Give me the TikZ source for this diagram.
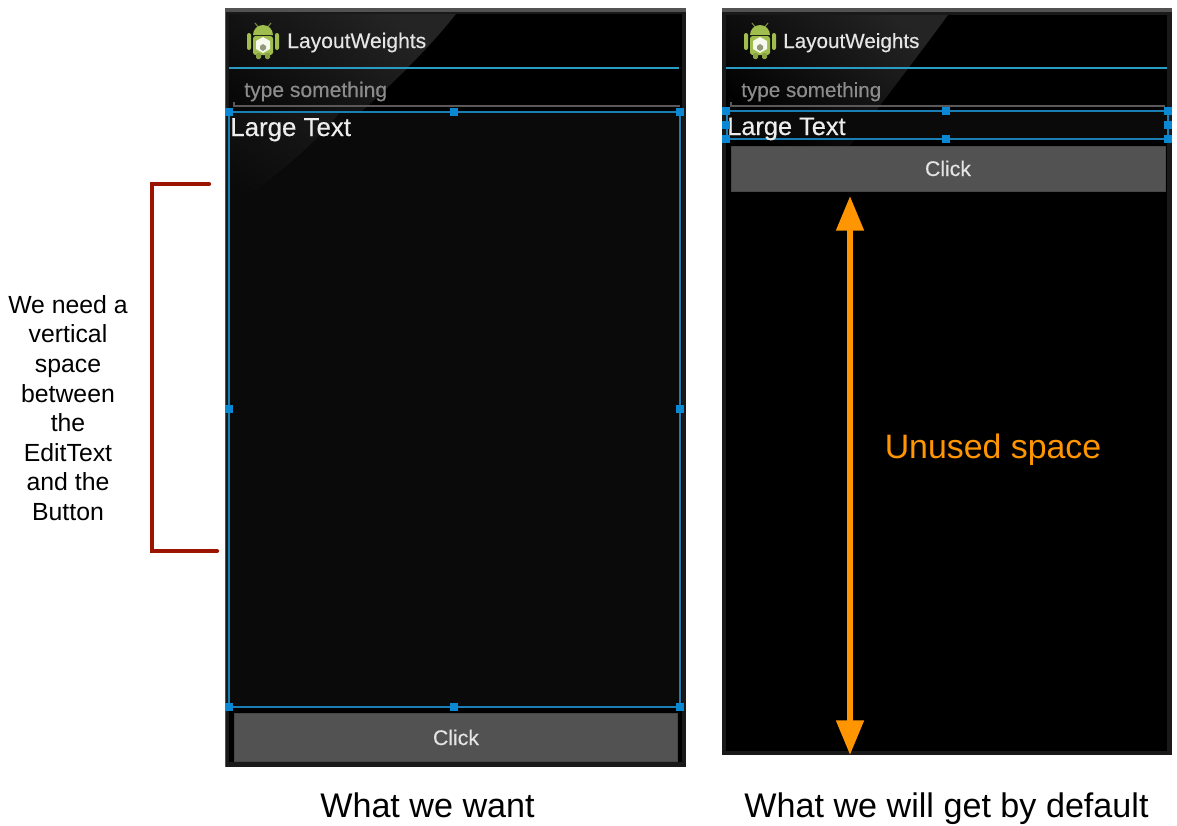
\documentclass[tikz,border=0pt]{standalone}
\usepackage{fontspec}
\setmainfont{Liberation Sans}
\newfontfamily\appfont[FakeBold=0.35]{Liberation Sans}
\usetikzlibrary{arrows.meta}
\definecolor{handleblue}{HTML}{0A88D4}
\definecolor{holoblue}{HTML}{2A9CC4}
\definecolor{selectblue}{HTML}{1A7FB4}
\definecolor{unusedorange}{HTML}{FF9500}
\definecolor{bracketred}{HTML}{9B1400}
\definecolor{droidgreen}{HTML}{A0BE4E}
\tikzset{
  handle/.style={rectangle,inner sep=0pt,minimum size=6.4pt,fill=handleblue},
  apptitle/.style={anchor=base west,inner sep=0pt,font=\appfont\fontsize{15.8}{18}\selectfont,text=white!90!black},
  hinttext/.style={anchor=base west,inner sep=0pt,font=\appfont\fontsize{15.8}{18}\selectfont,text=black!45!white},
  largetext/.style={anchor=base west,inner sep=0pt,font=\appfont\fontsize{19.4}{20}\selectfont,text=white!93!black},
  clicktext/.style={anchor=base,inner sep=0pt,font=\appfont\fontsize{15.9}{18}\selectfont,text=white!90!black},
  caption/.style={anchor=base,inner sep=0pt,font=\fontsize{25.6}{30}\selectfont},
  droid/.pic={
    \draw[droidgreen!75!black,line width=0.8pt] (-8,-18) -- (-4,-13) (8,-18) -- (4,-13);
    \fill[droidgreen] (-10,-6) arc (180:360:10) -- cycle;
    \fill[droidgreen,rounded corners=2pt] (-10,-5) rectangle (10,14);
    \fill[droidgreen,rounded corners=1.5pt] (-16,-8) rectangle (-12,9);
    \fill[droidgreen,rounded corners=1.5pt] (12,-8) rectangle (16,9);
    \fill[droidgreen!85!black,rounded corners=1pt] (-7,12) rectangle (-2,18);
    \fill[droidgreen!85!black,rounded corners=1pt] (2,12) rectangle (7,18);
    \fill[white!90!droidgreen] (0,-4) -- (7,0) -- (7,8) -- (0,12) -- (-7,8) -- (-7,0) -- cycle;
    \fill[droidgreen!45!black!60!white] (0,3) -- (3,5) -- (3,8) -- (0,10) -- (-3,8) -- (-3,5) -- cycle;
  }
}
\begin{document}
\begin{tikzpicture}[x=0.75pt,y=-0.75pt]
\useasboundingbox (0,0) rectangle (1177,825);
% left screen
\fill[black!68!white] (225,8) rectangle (686,767);
\fill[black!90!white] (226,12) rectangle (686,767);
\fill[black] (229,14) rectangle (682,762);
\shade[left color=black!86!white,right color=black,shading angle=-40] (229,14) -- (456,14) .. controls (420,60) and (330,150) .. (229,210) -- cycle;
\fill[black!96!white] (229,112) rectangle (680,707);
\shade[left color=black!91!white,right color=black!96!white,shading angle=-40] (229,112) -- (340,112) .. controls (310,150) and (270,180) .. (229,210) -- cycle;
\draw[holoblue,line width=1.3pt] (229,68) -- (679,68);
\draw[black!65!white,line width=0.9pt] (234,102) -- (234,106) -- (680,106);
\draw[selectblue,line width=0.8pt] (229,112) rectangle (680,707);
\fill[black!68!white,draw=black!72!white,line width=0.5pt] (234,713) rectangle (677,761);
% right screen
\fill[black!68!white] (722,8) rectangle (1172,755);
\fill[black!90!white] (722,12) rectangle (1172,755);
\fill[black] (726,15) rectangle (1167,751);
\shade[left color=black!86!white,right color=black,shading angle=-40] (726,15) -- (948,15) .. controls (915,60) and (880,105) .. (850,146) -- (726,146) -- cycle;
\fill[black!96!white] (727,111) rectangle (1168,139);
\draw[holoblue,line width=1.3pt] (726,68) -- (1167,68);
\draw[black!65!white,line width=0.9pt] (731,102) -- (731,106) -- (1165,106);
\draw[selectblue,line width=0.8pt] (727,111) rectangle (1168,139);
\fill[black!68!white,draw=black!72!white,line width=0.5pt] (731,146) rectangle (1165,191);
% screen contents
\pic at (263,41) {droid};
\pic at (760,41) {droid};
\node (titleleft) at (287,48) [apptitle] {LayoutWeights};
\node (titleright) at (783,48) [apptitle,scale=0.98] {LayoutWeights};
\node (hintleft) at (244,97) [hinttext] {type something};
\node (hintright) at (741,97) [hinttext,scale=0.98] {type something};
\node (largeleft) at (230,136) [largetext] {Large Text};
\node (largeright) at (727,135) [largetext,scale=0.98] {Large Text};
\node (clickleft) at (456,745) [clicktext] {Click};
\node (clickright) at (948,176) [clicktext] {Click};
% handles
\node (l1) at (229,112) [handle] {};
\node (l2) at (454,112) [handle] {};
\node (l3) at (680,112) [handle] {};
\node (l4) at (229,409) [handle] {};
\node (l5) at (680,409) [handle] {};
\node (l6) at (229,707) [handle] {};
\node (l7) at (454,707) [handle] {};
\node (l8) at (680,707) [handle] {};
\node (r1) at (726,111) [handle] {};
\node (r2) at (726,125) [handle] {};
\node (r3) at (726,139) [handle] {};
\node (r4) at (946,111) [handle] {};
\node (r5) at (946,139) [handle] {};
\node (r6) at (1168,111) [handle] {};
\node (r7) at (1168,125) [handle] {};
\node (r8) at (1168,139) [handle] {};
% bracket
\coordinate (btop) at (209,184);
\coordinate (bbot) at (217,551);
\draw[bracketred,line width=3.2pt,line cap=round] (btop) -- (152,184) -- (152,551) -- (bbot);
\node (need) at (68,408) [align=center,inner sep=0pt,font=\fontsize{18.6}{22.2}\selectfont] {We need a\\vertical\\space\\between\\the\\EditText\\and the\\Button};
% arrow
\coordinate (atop) at (850,196);
\coordinate (abot) at (850,755);
\draw[{Triangle[length=26pt,width=20pt]}-{Triangle[length=26pt,width=20pt]},unusedorange,line width=4.5pt] (atop) -- (abot);
\node (unused) at (993,458) [caption,text=unusedorange,font=\fontsize{25.4}{30}\selectfont] {Unused space};
% captions
\node (want) at (427.5,817) [caption] {What we want};
\node (get) at (946.5,817) [caption] {What we will get by default};
\end{tikzpicture}
\end{document}
